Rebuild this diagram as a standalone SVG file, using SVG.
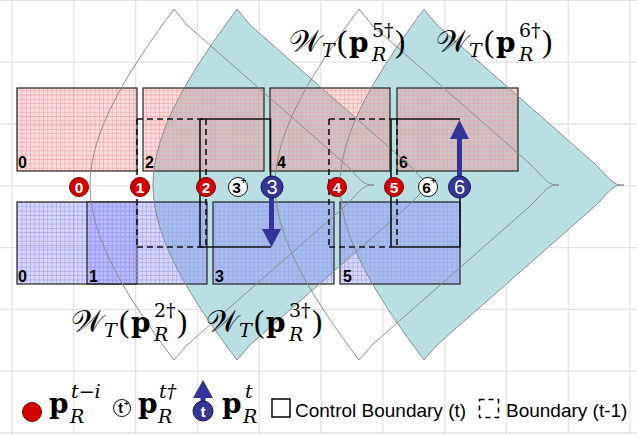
<svg xmlns="http://www.w3.org/2000/svg" width="637" height="435" viewBox="0 0 637 435">
<defs>
<pattern id="pinkGrid" width="4.3" height="4.3" patternUnits="userSpaceOnUse"><path d="M0,0.3H4.3M0.3,0V4.3" stroke="#f0a0a0" stroke-width="0.7" fill="none"/></pattern>
<pattern id="blueGrid" width="4.3" height="4.3" patternUnits="userSpaceOnUse"><path d="M0,0.3H4.3M0.3,0V4.3" stroke="#9c9cf0" stroke-width="0.7" fill="none"/></pattern>
<path id="reach" d="M0,9 L13,25 L170,163 C182,174 188,185 197,185 L200,185 L197,185 C188,185 182,196 170,207 L13,345 L0,360 C-45,300 -84,240 -84,185 C-84,130 -45,70 0,9 Z"/>
<style>
.grid{stroke:#e3e3e3;stroke-width:1.3;fill:none}
.teal{fill:#b9dfe2;stroke:none}
.rout{fill:none;stroke:#8c8c8c;stroke-width:1}
.pinkf{fill:rgba(240,130,130,0.28)}
.bluef{fill:rgba(110,110,255,0.28)}
.pinkg{fill:url(#pinkGrid);stroke:#222;stroke-width:1.2}
.blueg{fill:url(#blueGrid);stroke:#222;stroke-width:1.2}
.lab{font-family:"Liberation Sans",Arial,sans-serif;font-weight:bold;font-size:16px;fill:#000}
.solid{fill:none;stroke:#111;stroke-width:1.6}
.dash{fill:none;stroke:#111;stroke-width:1.6;stroke-dasharray:6,4}
.arr{fill:#333399;stroke:none}
.shaft{stroke:#333399;stroke-width:5;fill:none}
.red{fill:#d40000;stroke:#7a0000;stroke-width:1}
.blue{fill:#363696;stroke:#1a1a55;stroke-width:1}
.wht{fill:#fff;stroke:#111;stroke-width:1}
.rt{font-family:"Liberation Sans",Arial,sans-serif;font-weight:bold;font-size:15.5px;fill:#fff;text-anchor:middle}
.bt{font-family:"Liberation Sans",Arial,sans-serif;font-size:20px;fill:#fff;text-anchor:middle}
.wt{font-family:"Liberation Sans",Arial,sans-serif;font-weight:bold;font-size:15.5px;fill:#000;text-anchor:middle}
.wp{font-family:"Liberation Sans",Arial,sans-serif;font-weight:bold;font-size:9px;fill:#000}
.math{font-family:"DejaVu Serif","Liberation Serif",serif;font-size:28px;fill:#000}
.sc{font-family:"DejaVu Serif","DejaVu Sans","Noto Sans",serif;font-style:normal;font-size:31px}
.pr{font-family:"Liberation Serif","DejaVu Serif",serif;font-size:31px}
.it{font-style:italic;font-size:19px}
.bd{font-weight:bold}
.sm{font-size:19px}
.leg{font-family:"Liberation Sans",Arial,sans-serif;font-size:19px;fill:#000}
</style>
</defs>
<rect width="637" height="435" fill="#fff"/>
<g id="grid" class="grid">
<path d="M12,0V435M73.8,0V435M135.6,0V435M197.4,0V435M259.2,0V435M321,0V435M382.8,0V435M444.6,0V435M506.4,0V435M568.2,0V435M630,0V435"/>
<path d="M0,0.4H637M0,62.2H637M0,124H637M0,185.8H637M0,247.6H637M0,309.4H637M0,371.2H637M0,433H637"/>
</g>
<g id="W3fill"><use href="#reach" class="teal" transform="translate(237,0)"/></g>
<g id="W6fill"><use href="#reach" class="teal" transform="translate(424,0)"/></g>
<g id="P0"><rect x="17" y="88" width="120" height="83" class="pinkf"/><rect x="17" y="88" width="120" height="83" class="pinkg"/><text x="18" y="168" class="lab">0</text></g>
<g id="P2"><rect x="143" y="88" width="121" height="83" class="pinkf"/><rect x="143" y="88" width="121" height="83" class="pinkg"/><text x="145" y="168" class="lab">2</text></g>
<g id="P4"><rect x="270" y="88" width="120" height="83" class="pinkf"/><rect x="270" y="88" width="120" height="83" class="pinkg"/><text x="277" y="168" class="lab">4</text></g>
<g id="P6"><rect x="397" y="88" width="121" height="83" class="pinkf"/><rect x="397" y="88" width="121" height="83" class="pinkg"/><text x="399" y="168" class="lab">6</text></g>
<g id="B0"><rect x="17" y="202" width="120" height="82" class="bluef"/><rect x="17" y="202" width="120" height="82" class="blueg"/><text x="18" y="282" class="lab">0</text></g>
<g id="B1"><rect x="87" y="202" width="120" height="82" class="bluef"/><rect x="87" y="202" width="120" height="82" class="blueg"/><text x="89" y="282" class="lab">1</text></g>
<g id="B3"><rect x="213" y="202" width="121" height="82" class="bluef"/><rect x="213" y="202" width="121" height="82" class="blueg"/><text x="215" y="282" class="lab">3</text></g>
<g id="B5"><rect x="340" y="202" width="120" height="82" class="bluef"/><rect x="340" y="202" width="120" height="82" class="blueg"/><text x="343" y="282" class="lab">5</text></g>
<g id="W2"><use href="#reach" class="rout" transform="translate(174,0)"/></g>
<g id="W3"><use href="#reach" class="rout" transform="translate(237,0)"/></g>
<g id="W5"><use href="#reach" class="rout" transform="translate(359,0)"/></g>
<g id="W6"><use href="#reach" class="rout" transform="translate(424,0)"/></g>
<g id="connectors">
<path class="dash" d="M137,119H206M137,119V247M137,247H206M206,119V247"/>
<path class="solid" d="M200,119H270.5V180M200,119V247H271"/>
<path class="dash" d="M329,119H391M329,119V247M329,247H391M397,119V247"/>
<path class="solid" d="M391,119H460M391,119V247H460V190"/>
<path class="shaft" d="M271.5,195V231"/>
<polygon class="arr" points="262,229 281,229 271.5,247"/>
<path class="shaft" d="M459.5,178V136"/>
<polygon class="arr" points="450,139 469,139 459.5,120"/>
</g>
<g id="m0"><circle cx="79" cy="187" r="9.5" class="red"/><text x="79" y="192.5" class="rt">0</text></g>
<g id="m1"><circle cx="140" cy="187" r="9.5" class="red"/><text x="140" y="192.5" class="rt">1</text></g>
<g id="m2"><circle cx="206" cy="187" r="9.5" class="red"/><text x="206" y="192.5" class="rt">2</text></g>
<g id="m3p"><circle cx="238" cy="187" r="9.5" class="wht"/><text x="236.5" y="192.5" class="wt">3</text><text x="241" y="184" class="wp">+</text></g>
<g id="m3"><circle cx="272" cy="187" r="11" class="blue"/><text x="272" y="194" class="bt">3</text></g>
<g id="m4"><circle cx="337" cy="187" r="9.5" class="red"/><text x="337" y="192.5" class="rt">4</text></g>
<g id="m5"><circle cx="394" cy="187" r="9.5" class="red"/><text x="394" y="192.5" class="rt">5</text></g>
<g id="m6p"><circle cx="428" cy="187" r="9.5" class="wht"/><text x="426.5" y="192.5" class="wt">6</text><text x="431" y="184" class="wp">+</text></g>
<g id="m6"><circle cx="459.5" cy="187" r="11" class="blue"/><text x="459.5" y="194" class="bt">6</text></g>
<g id="lbl2"><text class="math"><tspan x="71" y="332" class="sc">𝒲</tspan><tspan x="104" y="337" class="it">T</tspan><tspan x="119" y="332" class="pr">(</tspan><tspan x="131" y="332" class="bd">p</tspan><tspan x="154" y="317" class="sm">2†</tspan><tspan x="154" y="341" class="it">R</tspan><tspan x="177" y="332" class="pr">)</tspan></text></g>
<g id="lbl3"><text class="math"><tspan x="206" y="332" class="sc">𝒲</tspan><tspan x="239" y="337" class="it">T</tspan><tspan x="254" y="332" class="pr">(</tspan><tspan x="266" y="332" class="bd">p</tspan><tspan x="289" y="317" class="sm">3†</tspan><tspan x="289" y="341" class="it">R</tspan><tspan x="312" y="332" class="pr">)</tspan></text></g>
<g id="lbl5"><text class="math"><tspan x="289" y="52" class="sc">𝒲</tspan><tspan x="322" y="57" class="it">T</tspan><tspan x="337" y="52" class="pr">(</tspan><tspan x="349" y="52" class="bd">p</tspan><tspan x="372" y="37" class="sm">5†</tspan><tspan x="372" y="61" class="it">R</tspan><tspan x="395" y="52" class="pr">)</tspan></text></g>
<g id="lbl6"><text class="math"><tspan x="436" y="52" class="sc">𝒲</tspan><tspan x="469" y="57" class="it">T</tspan><tspan x="484" y="52" class="pr">(</tspan><tspan x="496" y="52" class="bd">p</tspan><tspan x="519" y="37" class="sm">6†</tspan><tspan x="519" y="61" class="it">R</tspan><tspan x="542" y="52" class="pr">)</tspan></text></g>
<g id="legend">
<circle cx="32" cy="412" r="9.5" class="red"/>
<text class="math"><tspan x="49" y="413" class="bd">p</tspan><tspan x="71" y="398" class="it">t−i</tspan><tspan x="70" y="423" class="it">R</tspan></text>
<circle cx="122" cy="408" r="8.5" class="wht"/><text x="120.5" y="413" class="wt" style="font-size:14px">t</text><text x="124" y="406" class="wp" style="font-size:8px">+</text>
<text class="math"><tspan x="138" y="413" class="bd">p</tspan><tspan x="159" y="398" class="it">t†</tspan><tspan x="158" y="423" class="it">R</tspan></text>
<path class="shaft" d="M203,403V396"/>
<polygon class="arr" points="193,398 213,398 203,380"/>
<circle cx="203" cy="411" r="10" class="blue"/><text x="203" y="416.5" class="rt">t</text>
<text class="math"><tspan x="222" y="413" class="bd">p</tspan><tspan x="245" y="398" class="it">t</tspan><tspan x="243" y="423" class="it">R</tspan></text>
<rect x="272" y="399" width="18" height="18" fill="none" stroke="#000" stroke-width="1.5"/>
<text x="295" y="417" class="leg">Control Boundary (t)</text>
<rect x="479.5" y="399.5" width="19" height="18" fill="none" stroke="#000" stroke-width="1.5" stroke-dasharray="5,4"/>
<text x="506" y="417" class="leg">Boundary (t-1)</text>
</g>
</svg>
